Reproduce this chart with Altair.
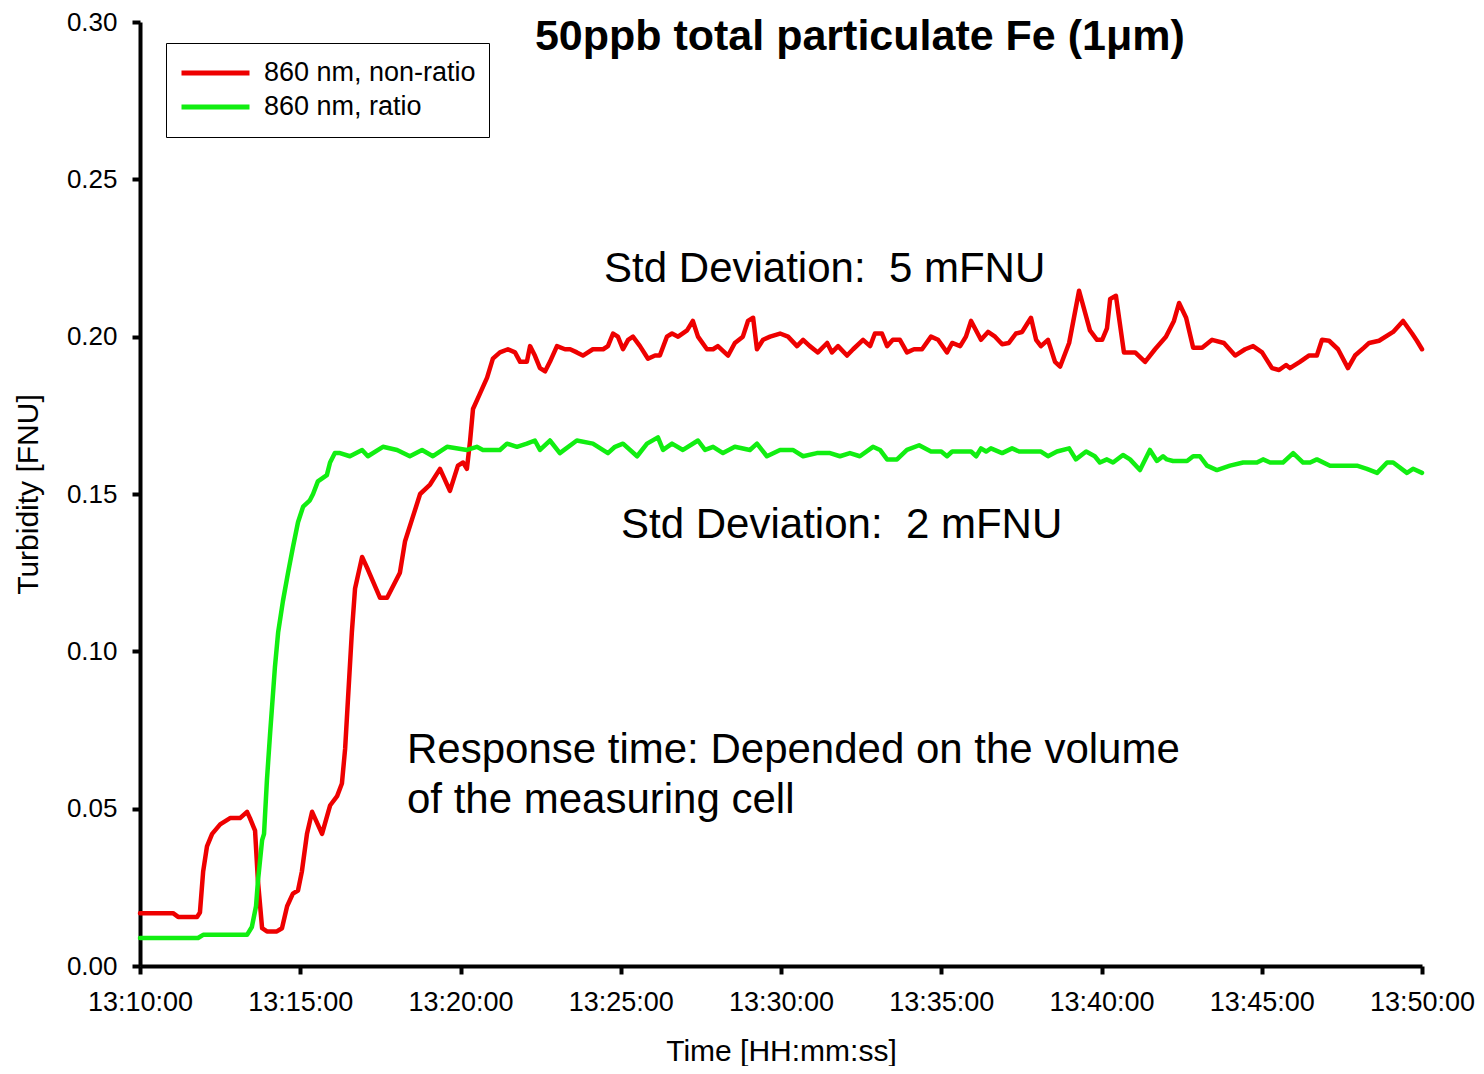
import altair as alt
import pandas as pd

# ---- data (minutes after 13:10:00, turbidity FNU) ----
red_min = [0.00, 1.03, 1.19, 1.78, 1.87, 1.97, 2.09, 2.25, 2.50, 2.81, 3.12, 3.34, 3.43, 3.59, 3.68, 3.81, 3.96, 4.27,
           4.43, 4.59, 4.77, 4.93, 5.05, 5.21, 5.37, 5.68, 5.93, 6.15, 6.30, 6.40, 6.49, 6.61, 6.71, 6.93, 7.11, 7.49,
           7.71, 8.11, 8.27, 8.49, 8.74, 9.05, 9.36, 9.67, 9.92, 10.08, 10.20, 10.30, 10.39, 10.61, 10.83, 11.01,
           11.23, 11.48, 11.70, 11.86, 12.07, 12.17, 12.32, 12.48, 12.64, 12.79, 13.01, 13.26, 13.42, 13.63, 13.82,
           14.13, 14.45, 14.60, 14.76, 14.91, 15.07, 15.23, 15.38, 15.60, 15.85, 16.07, 16.22, 16.44, 16.60, 16.79,
           17.07, 17.25, 17.41, 17.69, 17.88, 18.03, 18.35, 18.56, 18.81, 18.97, 19.13, 19.25, 19.44, 19.66, 19.97,
           20.22, 20.50, 20.69, 20.90, 21.15, 21.44, 21.59, 21.78, 22.06, 22.25, 22.56, 22.78, 22.93, 23.15, 23.31,
           23.49, 23.71, 23.93, 24.15, 24.40, 24.68, 24.90, 25.18, 25.34, 25.59, 25.77, 25.93, 26.24, 26.46, 26.68,
           26.90, 27.11, 27.33, 27.52, 27.80, 27.96, 28.11, 28.33, 28.55, 28.71, 28.99, 29.30, 29.64, 29.86, 30.02,
           30.17, 30.27, 30.45, 30.70, 31.05, 31.36, 31.67, 32.01, 32.26, 32.42, 32.64, 32.86, 33.14, 33.45, 33.82,
           34.17, 34.48, 34.73, 35.01, 35.32, 35.54, 35.76, 35.88, 36.19, 36.47, 36.72, 36.88, 37.10, 37.38, 37.69,
           37.91, 38.19, 38.35, 38.66, 39.10, 39.41, 39.69, 39.84, 40.00]
red_val = [0.0168, 0.0168, 0.0156, 0.0156, 0.017, 0.030, 0.038, 0.042, 0.045, 0.047, 0.047, 0.049, 0.047, 0.043, 0.027,
           0.012, 0.011, 0.011, 0.012, 0.019, 0.023, 0.024, 0.030, 0.042, 0.049, 0.042, 0.051, 0.054, 0.058, 0.069,
           0.085, 0.106, 0.120, 0.130, 0.126, 0.117, 0.117, 0.125, 0.135, 0.142, 0.150, 0.153, 0.158, 0.151, 0.159,
           0.160, 0.158, 0.167, 0.177, 0.182, 0.187, 0.193, 0.195, 0.196, 0.195, 0.192, 0.192, 0.197, 0.194, 0.190,
           0.189, 0.192, 0.197, 0.196, 0.196, 0.195, 0.194, 0.196, 0.196, 0.197, 0.201, 0.200, 0.196, 0.199, 0.200,
           0.197, 0.193, 0.194, 0.194, 0.200, 0.201, 0.200, 0.202, 0.205, 0.200, 0.196, 0.196, 0.197, 0.194, 0.198,
           0.200, 0.205, 0.206, 0.196, 0.199, 0.200, 0.201, 0.200, 0.197, 0.199, 0.197, 0.195, 0.198, 0.195, 0.197,
           0.194, 0.196, 0.199, 0.197, 0.201, 0.201, 0.197, 0.199, 0.199, 0.195, 0.196, 0.196, 0.200, 0.199, 0.195,
           0.198, 0.197, 0.200, 0.205, 0.199, 0.2015, 0.200, 0.1976, 0.198, 0.201, 0.2015, 0.206, 0.199, 0.197, 0.199,
           0.192, 0.1905, 0.198, 0.2146, 0.202, 0.199, 0.199, 0.2026, 0.212, 0.213, 0.195, 0.195, 0.192, 0.196, 0.200,
           0.205, 0.2107, 0.206, 0.1965, 0.1965, 0.199, 0.198, 0.194, 0.196, 0.197, 0.195, 0.190, 0.1894, 0.191,
           0.190, 0.192, 0.194, 0.194, 0.199, 0.1987, 0.196, 0.190, 0.194, 0.1965, 0.198, 0.1987, 0.2015, 0.205,
           0.201, 0.1987, 0.196]

green_min = [0.00, 1.81, 1.97, 3.34, 3.49, 3.62, 3.68, 3.81, 3.87, 3.96, 4.06, 4.21, 4.31, 4.46, 4.62, 4.77, 4.93,
             5.09, 5.30, 5.40, 5.55, 5.83, 5.93, 6.08, 6.24, 6.55, 6.93, 7.11, 7.58, 8.02, 8.42, 8.80, 9.14, 9.58,
             10.20, 10.51, 10.70, 11.23, 11.45, 11.76, 12.07, 12.32, 12.48, 12.79, 13.10, 13.63, 14.13, 14.60, 14.82,
             15.07, 15.51, 15.82, 16.16, 16.32, 16.60, 16.94, 17.41, 17.63, 17.88, 18.19, 18.56, 19.03, 19.25, 19.56,
             19.97, 20.37, 20.69, 21.12, 21.53, 21.84, 22.15, 22.46, 22.87, 23.09, 23.31, 23.62, 23.93, 24.31, 24.68,
             25.00, 25.18, 25.34, 25.93, 26.09, 26.24, 26.40, 26.55, 26.90, 27.21, 27.43, 28.11, 28.33, 28.61, 28.99,
             29.20, 29.52, 29.79, 29.95, 30.17, 30.36, 30.67, 30.89, 31.20, 31.51, 31.73, 31.92, 32.04, 32.23, 32.67,
             32.86, 33.07, 33.29, 33.60, 34.01, 34.42, 34.85, 35.04, 35.26, 35.66, 35.98, 36.29, 36.51, 36.72, 37.13,
             37.97, 38.28, 38.60, 38.91, 39.10, 39.53, 39.72, 40.00]
green_val = [0.0089, 0.0089, 0.0099, 0.0099, 0.0124, 0.019, 0.027, 0.040, 0.042, 0.059, 0.074, 0.095, 0.106, 0.116,
             0.125, 0.133, 0.141, 0.146, 0.148, 0.150, 0.154, 0.156, 0.160, 0.163, 0.163, 0.162, 0.164, 0.162, 0.165,
             0.164, 0.162, 0.164, 0.162, 0.165, 0.164, 0.165, 0.164, 0.164, 0.166, 0.165, 0.166, 0.167, 0.164, 0.167,
             0.163, 0.167, 0.166, 0.163, 0.165, 0.166, 0.162, 0.166, 0.168, 0.164, 0.166, 0.164, 0.167, 0.164, 0.165,
             0.163, 0.165, 0.164, 0.166, 0.162, 0.164, 0.164, 0.162, 0.163, 0.163, 0.162, 0.163, 0.162, 0.165, 0.164,
             0.161, 0.161, 0.164, 0.1655, 0.1635, 0.1635, 0.162, 0.1635, 0.1635, 0.162, 0.1645, 0.1635, 0.1645, 0.163,
             0.1645, 0.1635, 0.1635, 0.162, 0.1635, 0.1645, 0.161, 0.1635, 0.162, 0.160, 0.161, 0.160, 0.1624, 0.161,
             0.1576, 0.164, 0.1605, 0.162, 0.161, 0.1605, 0.1605, 0.162, 0.162, 0.159, 0.1576, 0.159, 0.160, 0.160,
             0.161, 0.160, 0.160, 0.163, 0.160, 0.160, 0.161, 0.159, 0.159, 0.158, 0.1567, 0.160, 0.160, 0.1567, 0.158,
             0.1567]

series_names = ["860 nm, non-ratio", "860 nm, ratio"]
series_colors = ["#ee0000", "#11ee11"]

y_ticks = [0.0, 0.05, 0.10, 0.15, 0.20, 0.25, 0.30]
x_tick_minutes = [0, 5, 10, 15, 20, 25, 30, 35, 40]

title_text = "50ppb total particulate Fe (1μm)"
notes = ["Std Deviation:\u00a0 5 mFNU", "Std Deviation:\u00a0 2 mFNU",
         "Response time: Depended on the volume\nof the measuring cell"]
note_min = [14.48, 15.01, 8.33]
note_val = [0.2174, 0.136, 0.0645]
title_min = [22.46]
title_val = [0.2911]

BASE = pd.Timestamp("2024-01-01 13:10:00")


def to_time(mins):
    return [(BASE + pd.Timedelta(minutes=m)).strftime("%Y-%m-%dT%H:%M:%S.%f")[:-3] for m in mins]


df = pd.concat([
    pd.DataFrame({"time": to_time(red_min), "value": red_val, "series": series_names[0]}),
    pd.DataFrame({"time": to_time(green_min), "value": green_val, "series": series_names[1]}),
])
notes_df = pd.DataFrame({"time": to_time(note_min), "value": note_val, "label": notes})
title_df = pd.DataFrame({"time": to_time(title_min), "value": title_val, "label": [title_text]})

FONT = "Liberation Sans"
x_vals = [alt.DateTime(year=2024, month=1, date=1, hours=13, minutes=10 + m) for m in x_tick_minutes]
x_dom = [x_vals[0], x_vals[-1]]

X = alt.X("time:T", title="Time [HH:mm:ss]",
          scale=alt.Scale(domain=x_dom),
          axis=alt.Axis(values=x_vals, format="%H:%M:%S", labelPadding=15, labelFontSize=27,
                        labelFlush=False, labelOverlap=False, labelBound=False,
                        titleY=94, titleBaseline="alphabetic", titleFontSize=30))
Y = alt.Y("value:Q", title="Turbidity [FNU]",
          scale=alt.Scale(domain=[0, 0.30], nice=False, zero=True),
          axis=alt.Axis(values=y_ticks, format=".2f", labelPadding=15, labelFontSize=26,
                        titleX=-112, titleY=472, titleBaseline="middle", titleFontSize=30))

lines = alt.Chart(df).mark_line(strokeWidth=4.5, strokeJoin="round", strokeCap="round").encode(
    x=X, y=Y,
    color=alt.Color("series:N",
                    scale=alt.Scale(domain=series_names, range=series_colors),
                    legend=alt.Legend(orient="none", legendX=26, legendY=21, title=None,
                                      symbolType="stroke", symbolSize=4624, symbolStrokeWidth=5,
                                      labelFontSize=27, labelFont=FONT, labelColor="black", labelLimit=500,
                                      strokeColor="black", fillColor="white", padding=13,
                                      rowPadding=0, clipHeight=34, labelOffset=12, symbolOffset=0)),
    order=alt.Order("series:N"),
)

note_layer = alt.Chart(notes_df).mark_text(
    align="left", baseline="alphabetic", font=FONT, fontSize=42, color="black", lineBreak="\n", lineHeight=50
).encode(x=X, y=Y, text="label:N")

title_layer = alt.Chart(title_df).mark_text(
    align="center", baseline="alphabetic", font=FONT, fontSize=43, fontWeight="bold", color="black"
).encode(x=X, y=Y, text="label:N")

chart = alt.layer(lines, note_layer, title_layer).properties(
    width=1282, height=944,
    autosize=alt.AutoSizeParams(type="none"),
    padding={"left": 132, "top": 14, "right": 54, "bottom": 100},
).configure_view(stroke=None).configure_axis(
    grid=False, domainColor="black", domainWidth=4, tickColor="black", tickWidth=4, tickSize=8,
    labelFont=FONT, labelColor="black", titleFont=FONT, titleColor="black",
    titleFontWeight="normal",
)

chart.save("out.html", embed_options={"renderer": "svg", "actions": False})
